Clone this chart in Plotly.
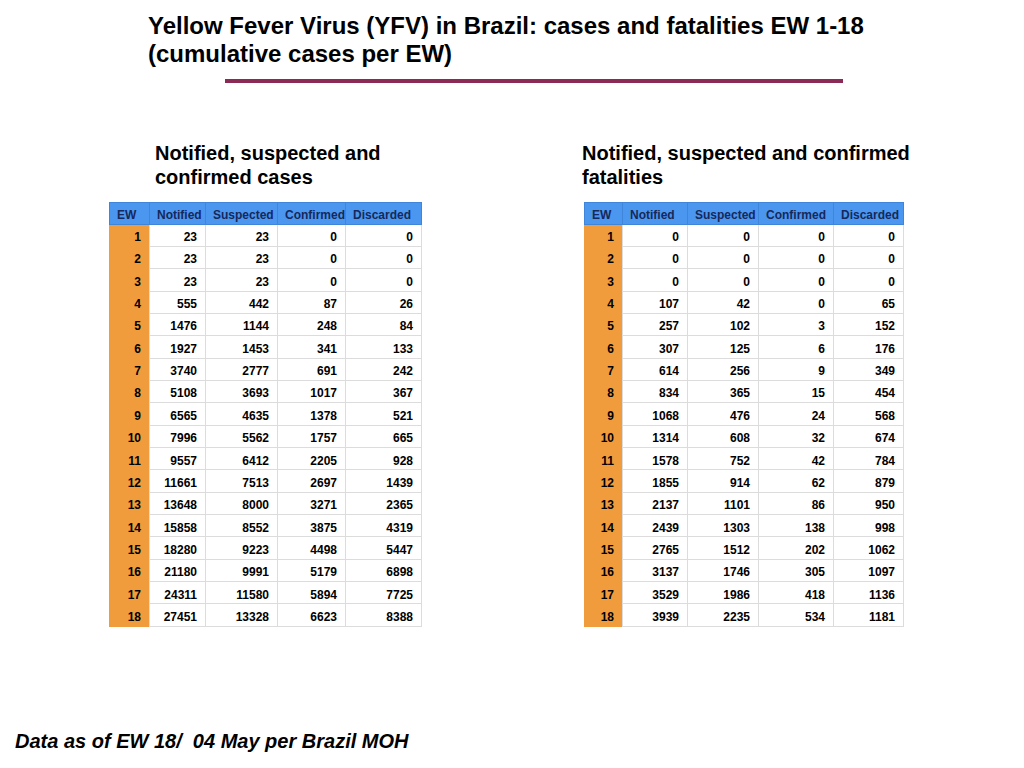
import plotly.graph_objects as go

# ---- data: cumulative values per epidemiological week ----
ew = list(range(1, 19))

cases_notified = [23, 23, 23, 555, 1476, 1927, 3740, 5108, 6565, 7996, 9557, 11661,
                  13648, 15858, 18280, 21180, 24311, 27451]
cases_suspected = [23, 23, 23, 442, 1144, 1453, 2777, 3693, 4635, 5562, 6412, 7513,
                   8000, 8552, 9223, 9991, 11580, 13328]
cases_confirmed = [0, 0, 0, 87, 248, 341, 691, 1017, 1378, 1757, 2205, 2697,
                   3271, 3875, 4498, 5179, 5894, 6623]
cases_discarded = [0, 0, 0, 26, 84, 133, 242, 367, 521, 665, 928, 1439,
                   2365, 4319, 5447, 6898, 7725, 8388]

deaths_notified = [0, 0, 0, 107, 257, 307, 614, 834, 1068, 1314, 1578, 1855,
                   2137, 2439, 2765, 3137, 3529, 3939]
deaths_suspected = [0, 0, 0, 42, 102, 125, 256, 365, 476, 608, 752, 914,
                    1101, 1303, 1512, 1746, 1986, 2235]
deaths_confirmed = [0, 0, 0, 0, 3, 6, 9, 15, 24, 32, 42, 62,
                    86, 138, 202, 305, 418, 534]
deaths_discarded = [0, 0, 0, 65, 152, 176, 349, 454, 568, 674, 784, 879,
                    950, 998, 1062, 1097, 1136, 1181]

headers = ["EW", "Notified", "Suspected", "Confirmed", "Discarded"]

# page body has an 8px margin, so the figure is a bit smaller than the window
OFF = 8
W, H = 1024 - 2 * OFF, 768 - 2 * OFF
BLUE = "#4b97f0"
ORANGE = "#f19c3c"
NAVY = "#17285a"
GRID = "#dcdcdc"
FONT = "Liberation Sans"


def fx(x):
    return (x - OFF) / W


def fy(y):
    return 1 - (y - OFF) / H


def make_table(cols, widths, x0, x1, y0, y1):
    return go.Table(
        domain=dict(x=[fx(x0), fx(x1)], y=[fy(y1), fy(y0)]),
        columnwidth=widths,
        header=dict(
            values=headers,
            fill_color=BLUE,
            line=dict(color="#3f86da", width=1),
            align="left",
            height=22,
            font=dict(family=FONT, size=12, color=NAVY, weight="bold"),
        ),
        cells=dict(
            values=cols,
            fill_color=[ORANGE, "white", "white", "white", "white"],
            line=dict(color=[ORANGE, GRID, GRID, GRID, GRID], width=1),
            align="right",
            height=22.35,
            font=dict(family=FONT, size=12, color="black", weight="bold"),
        ),
    )


fig = go.Figure()

fig.add_trace(make_table(
    [ew, cases_notified, cases_suspected, cases_confirmed, cases_discarded],
    [40, 56, 72, 68, 76],
    109, 421, 202, 700,
))

fig.add_trace(make_table(
    [ew, deaths_notified, deaths_suspected, deaths_confirmed, deaths_discarded],
    [38, 65, 71, 75, 70],
    584, 903, 202, 700,
))

# balk onder de hoofdtitel
fig.add_shape(type="line", xref="paper", yref="paper",
              x0=fx(225), x1=fx(843), y0=fy(81), y1=fy(81),
              line=dict(color="#8b2a55", width=4))


def note(text, x, y, size, style="normal"):
    fig.add_annotation(text=text, xref="paper", yref="paper",
                       x=fx(x), y=fy(y), xanchor="left", yanchor="middle",
                       showarrow=False, align="left",
                       font=dict(family=FONT, size=size, color="black",
                                 weight="bold", style=style))


note("Yellow Fever Virus (YFV) in Brazil: cases and fatalities EW 1-18", 146, 25, 24)
note("(cumulative cases per EW)", 146, 53, 24)
note("Notified, suspected and", 153, 153, 20)
note("confirmed cases", 153, 177, 20)
note("Notified, suspected and confirmed", 580, 153, 20)
note("fatalities", 580, 177, 20)
note("Data as of EW 18/  04 May per Brazil MOH", 13, 741, 20, style="italic")

fig.update_layout(
    width=W, height=H,
    margin=dict(l=0, r=0, t=0, b=0),
    paper_bgcolor="white",
    plot_bgcolor="white",
)

fig.write_html("out.html")
